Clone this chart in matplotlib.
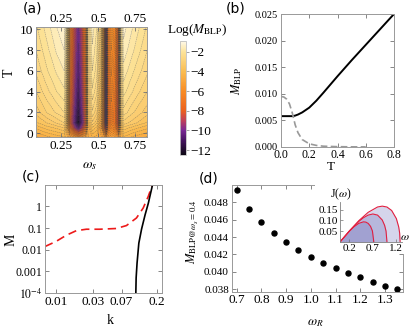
import numpy as np
import matplotlib
matplotlib.use('Agg')
import matplotlib.pyplot as plt
from matplotlib.colors import LinearSegmentedColormap, Normalize
from matplotlib.cm import ScalarMappable
from matplotlib.ticker import FormatStrFormatter

plt.rcParams['font.family'] = ['Liberation Serif', 'DejaVu Serif']
plt.rcParams['mathtext.fontset'] = 'stix'

# ---- data ----
# (a) Log(M_BLP), rows = T, columns = omega_s
omega_grid = [0.08, 0.15, 0.22, 0.27, 0.285, 0.31, 0.34, 0.365, 0.39, 0.415, 0.43, 0.46,
              0.49, 0.52, 0.54, 0.552, 0.565, 0.59, 0.615, 0.635, 0.65, 0.67, 0.74, 0.83]
T_grid = [-0.4, 0.5, 1.0, 2.0, 4.0, 6.0, 8.0, 10.2]
logM_grid = [
    [-4.8, -4.6, -4.4, -4.3, -4.6, -5.2, -5.6, -6.0, -5.6, -5.2, -4.8, -4.5,
     -4.6, -5.0, -5.4, -6.0, -5.5, -5.2, -5.4, -5.6, -4.8, -4.3, -4.6, -4.8],
    [-4.2, -3.9, -3.7, -3.5, -4.4, -7.5, -9.5, -11.0, -9.5, -7.5, -4.7, -3.8,
     -4.1, -5.5, -8.0, -10.5, -7.0, -6.2, -6.8, -8.5, -4.7, -3.6, -3.9, -4.2],
    [-3.8, -3.5, -3.2, -3.0, -4.0, -8.3, -10.6, -12.5, -10.6, -8.3, -4.3, -3.3,
     -3.7, -5.2, -8.3, -12.4, -7.6, -6.6, -7.3, -9.4, -4.3, -3.1, -3.4, -3.8],
    [-3.4, -3.0, -2.7, -2.5, -3.5, -8.0, -10.2, -11.9, -10.2, -8.0, -3.9, -2.8,
     -3.2, -4.8, -8.0, -12.3, -7.8, -6.6, -7.3, -9.3, -3.9, -2.6, -3.0, -3.4],
    [-3.0, -2.6, -2.25, -2.05, -3.1, -7.7, -9.7, -11.3, -9.7, -7.7, -3.5, -2.3,
     -2.7, -4.3, -7.7, -12.1, -7.6, -6.4, -7.1, -9.1, -3.5, -2.15, -2.55, -3.0],
    [-2.7, -2.3, -1.95, -1.75, -2.85, -7.4, -9.4, -10.9, -9.4, -7.4, -3.2, -2.0,
     -2.4, -4.0, -7.4, -11.9, -7.4, -6.2, -6.9, -8.9, -3.2, -1.85, -2.25, -2.7],
    [-2.5, -2.1, -1.7, -1.5, -2.6, -7.2, -9.2, -10.6, -9.2, -7.2, -3.0, -1.8,
     -2.2, -3.8, -7.2, -11.7, -7.2, -6.0, -6.7, -8.7, -3.0, -1.6, -2.0, -2.5],
    [-2.3, -1.9, -1.5, -1.3, -2.4, -7.0, -9.0, -10.3, -9.0, -7.0, -2.8, -1.6,
     -2.0, -3.6, -7.0, -11.5, -7.0, -5.8, -6.5, -8.5, -2.8, -1.4, -1.8, -2.3],
]

# (b) M_BLP vs T
T_solid = [0, 0.05, 0.08, 0.1, 0.12, 0.15, 0.2, 0.25, 0.3, 0.4, 0.5, 0.6, 0.7, 0.8]
M_solid = [0.0058, 0.0058, 0.0058, 0.0059, 0.0061, 0.0065, 0.0074, 0.0087, 0.0102,
           0.0133, 0.0163, 0.0192, 0.0221, 0.0250]
T_dash = [0, 0.02, 0.04, 0.06, 0.08, 0.1, 0.12, 0.15, 0.2, 0.25, 0.3, 0.4, 0.5, 0.6]
M_dash = [0.0095, 0.0094, 0.0090, 0.0081, 0.0064, 0.0042, 0.0027, 0.0014, 0.0006,
          0.0003, 0.00015, 0.00006, 0.00003, 0.00002]

# (c) M vs k
k_red = [0.0072, 0.01, 0.0135, 0.0182, 0.0246, 0.0365, 0.06, 0.081, 0.109, 0.133, 0.155, 0.174]
M_red = [0.014, 0.024, 0.046, 0.075, 0.088, 0.088, 0.095, 0.13, 0.29, 0.83, 2.9, 9.4]
k_black = [0.107, 0.108, 0.111, 0.117, 0.127, 0.141, 0.155, 0.176]
M_black = [1e-4, 5e-4, 0.0024, 0.02, 0.09, 0.41, 1.38, 10]

# (d) M_BLP at omega_s = 0.4 vs omega_R
omega_R = [0.70, 0.75, 0.80, 0.85, 0.90, 0.95, 1.00, 1.05, 1.10, 1.15, 1.20, 1.25, 1.30, 1.35]
M_wR = [0.04939, 0.04727, 0.04574, 0.04447, 0.04343, 0.04254, 0.04173, 0.04104,
        0.04043, 0.03985, 0.03942, 0.03884, 0.03830, 0.03803]

# inset: spectral densities J(omega)
w_big = [0, 0.2, 0.4, 0.6, 0.8, 0.9, 1.0, 1.1, 1.2, 1.25, 1.27, 1.28]
J_big = [0, 0.0513, 0.0988, 0.1377, 0.1625, 0.1664, 0.1623, 0.1462, 0.1086, 0.0699, 0.0416, 0]
w_mid = [0, 0.2, 0.4, 0.5, 0.6, 0.7, 0.8, 0.9, 0.95, 0.98, 1.0]
J_mid = [0, 0.051, 0.0953, 0.1126, 0.1248, 0.13, 0.1248, 0.102, 0.0771, 0.0507, 0]
w_small = [0, 0.2, 0.3, 0.4, 0.5, 0.55, 0.6, 0.65, 0.69, 0.72]
J_small = [0, 0.0499, 0.0709, 0.0865, 0.0935, 0.0922, 0.0862, 0.0727, 0.0513, 0]

# ---- figure ----
W, H = 415, 331
fig = plt.figure(figsize=(W / 100, H / 100), dpi=100)


def box(l, t, r, b):
    return [l / W, 1 - b / H, (r - l) / W, (b - t) / H]


def put(x, y, s, **kw):
    fig.text(x / W, 1 - y / H, s, ha='center', va='center', **kw)


def style(ax, fx, fy):
    for s in ax.spines.values():
        s.set_color('0.6')
        s.set_linewidth(0.7)
    ax.tick_params(direction='in', length=3, width=0.6, color='0.45', top=True, right=True, pad=2)
    ax.tick_params(which='minor', direction='in', length=1.5, width=0.5, color='0.45', top=True, right=True)
    ax.tick_params(axis='x', labelsize=fx)
    ax.tick_params(axis='y', labelsize=fy)


cmap = LinearSegmentedColormap.from_list('sunset', [
    (0.0, (0.05, 0.03, 0.08)),
    (0.129, (0.28, 0.08, 0.38)),
    (0.216, (0.48, 0.16, 0.58)),
    (0.302, (0.75, 0.25, 0.35)),
    (0.388, (0.92, 0.38, 0.12)),
    (0.560, (0.97, 0.55, 0.15)),
    (0.733, (0.98, 0.74, 0.32)),
    (0.905, (0.99, 0.89, 0.60)),
    (1.0, (1.0, 0.98, 0.92))])
norm = Normalize(-12.5, -0.9)

# (a) contour map
ax_a = fig.add_axes(box(36, 27.3, 147.3, 137.3))
levels = np.arange(-13, -0.7, 0.25)
ax_a.contourf(omega_grid, T_grid, logM_grid, levels=levels, cmap=cmap, norm=norm)
ax_a.contour(omega_grid, T_grid, logM_grid, levels=levels, colors='0.25', linewidths=0.3, alpha=0.6)
ax_a.set_xlim(0.08, 0.83)
ax_a.set_ylim(-0.4, 10.2)
ax_a.set_xticks([0.25, 0.5, 0.75])
ax_a.set_xticklabels(['0.25', '0.5', '0.75'])
ax_a.set_yticks([0, 2, 4, 6, 8, 10])
style(ax_a, 9.5, 9.5)
ax_a.tick_params(labeltop=True)

cax = fig.add_axes(box(180, 41, 185.5, 155))
cb = fig.colorbar(ScalarMappable(norm=norm, cmap=cmap), cax=cax, ticks=[-2, -4, -6, -8, -10, -12])
cb.outline.set_edgecolor('0.75')
cb.outline.set_linewidth(0.6)
cax.tick_params(labelsize=9.5, length=2, width=0.5, color='0.5', pad=1.5)

put(32, 9, '(a)', fontsize=10, family='DejaVu Sans')
put(90, 166, r'$\omega_s$', fontsize=10)
put(9, 73, 'T', fontsize=10, rotation=90)
put(197, 30, r'Log($M_{\rm BLP}$)', fontsize=9.5)

# (b)
ax_b = fig.add_axes(box(281, 14, 394, 147))
ax_b.plot(T_solid, M_solid, color='black', lw=1.4)
ax_b.plot(T_dash, M_dash, color='0.6', lw=1.2, ls=(0, (4, 2)))
ax_b.set_xlim(0, 0.8)
ax_b.set_ylim(0, 0.025)
ax_b.set_xticks([0, 0.2, 0.4, 0.6, 0.8])
ax_b.set_yticks([0, 0.005, 0.01, 0.015, 0.02, 0.025])
ax_b.xaxis.set_major_formatter(FormatStrFormatter('%.1f'))
ax_b.yaxis.set_major_formatter(FormatStrFormatter('%.3f'))
style(ax_b, 8.5, 7.5)
ax_b.tick_params(axis='x', pad=1.5)
put(236, 9, '(b)', fontsize=10, family='DejaVu Sans')
put(237, 81, r'$M_{\rm BLP}$', fontsize=9, rotation=90)
put(331, 167, 'T', fontsize=9.5)

# (c)
ax_c = fig.add_axes(box(45, 184.7, 162.3, 293))
ax_c.plot(k_red, M_red, color=(0.93, 0.1, 0.1), lw=1.2, ls=(0, (5, 3)))
ax_c.plot(k_black, M_black, color='black', lw=1.2)
ax_c.set_xscale('log')
ax_c.set_yscale('log')
ax_c.set_xlim(0.0072, 0.235)
ax_c.set_ylim(1e-4, 10)
ax_c.set_xticks([0.01, 0.03, 0.07, 0.2])
ax_c.set_xticklabels(['0.01', '0.03', '0.07', '0.2'])
ax_c.set_yticks([1e-4, 1e-3, 1e-2, 0.1, 1])
ax_c.set_yticklabels([r'$10^{-4}$', '0.001', '0.01', '0.1', '1'])
ax_c.minorticks_off()
style(ax_c, 9.5, 8.5)
put(31, 177, '(c)', fontsize=10, family='DejaVu Sans')
put(11, 240, 'M', fontsize=10, rotation=90)
put(110, 320, 'k', fontsize=10)

# (d)
ax_d = fig.add_axes(box(231.7, 185, 403, 291.7))
ax_d.plot(omega_R, M_wR, 'o', color='black', ms=3.6)
ax_d.set_xlim(0.68, 1.373)
ax_d.set_ylim(0.0377, 0.0500)
ax_d.set_xticks([0.7, 0.8, 0.9, 1.0, 1.1, 1.2, 1.3])
ax_d.set_yticks([0.038, 0.040, 0.042, 0.044, 0.046, 0.048])
ax_d.xaxis.set_major_formatter(FormatStrFormatter('%.1f'))
ax_d.yaxis.set_major_formatter(FormatStrFormatter('%.3f'))
style(ax_d, 9.5, 8)
put(209, 178, '(d)', fontsize=10, family='DejaVu Sans')
put(193, 232, r'$M_{\mathrm{BLP@}\omega_s\mathrm{=0.4}}$', fontsize=9, rotation=90)
put(315, 323, r'$\omega_R$', fontsize=9.5)

# white area behind the inset
cover = fig.add_axes(box(315, 178, 415, 254))
cover.set_xticks([])
cover.set_yticks([])
for s in cover.spines.values():
    s.set_visible(False)

ax_in = fig.add_axes(box(340, 201.7, 402, 242))
for w, J in [(w_big, J_big), (w_mid, J_mid), (w_small, J_small)]:
    ax_in.fill_between(w, J, color=(0.42, 0.42, 0.72), alpha=0.28, lw=0)
    ax_in.plot(w, J, color=(0.88, 0.12, 0.25), lw=0.8)
ax_in.set_xlim(0, 1.32)
ax_in.set_ylim(0, 0.187)
ax_in.set_xticks([0.2, 0.7, 1.2])
ax_in.set_yticks([0.05, 0.10, 0.15])
ax_in.yaxis.set_major_formatter(FormatStrFormatter('%.2f'))
ax_in.spines['top'].set_visible(False)
ax_in.spines['right'].set_visible(False)
for s in ('left', 'bottom'):
    ax_in.spines[s].set_color('0.5')
    ax_in.spines[s].set_linewidth(0.6)
ax_in.tick_params(direction='in', length=2, width=0.5, color='0.45', labelsize=8, pad=1.5)
put(341, 194, r'J($\omega$)', fontsize=8.5)
put(405, 237, r'$\omega$', fontsize=8.5)

fig.savefig('out.png', dpi=100)
